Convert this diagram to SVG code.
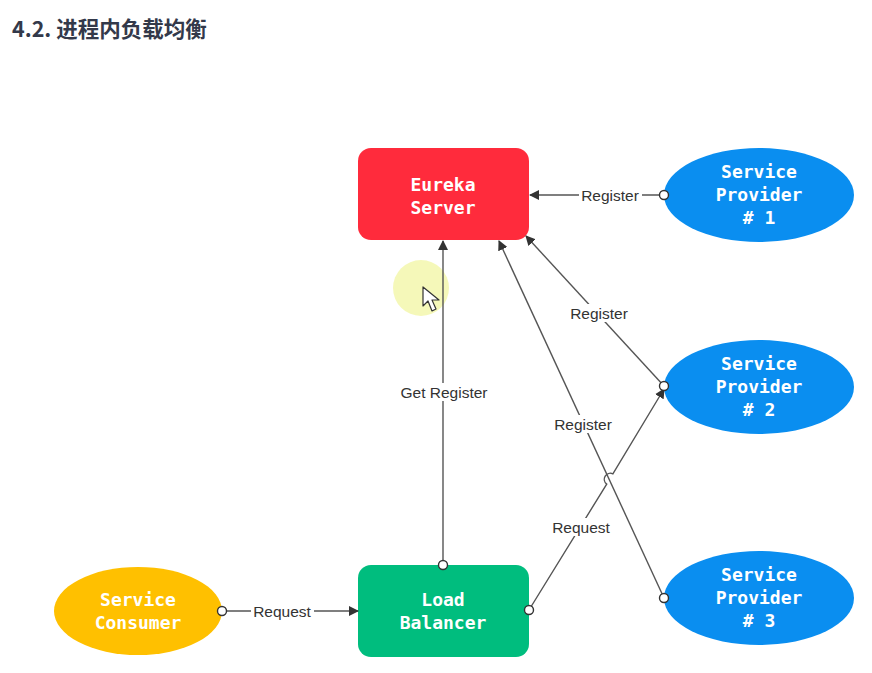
<svg xmlns="http://www.w3.org/2000/svg" width="872" height="673" viewBox="0 0 872 673">
<style>
.node-text{font-family:"DejaVu Sans Mono","Liberation Mono",monospace;font-weight:bold;font-size:18px;fill:#ffffff;text-anchor:middle}
.lbl{font-family:"Liberation Sans",Arial,sans-serif;font-size:15.5px;fill:#333333;text-anchor:middle}
.edge{fill:none;stroke:#555555;stroke-width:1.4}
.start{fill:#ffffff;stroke:#333333;stroke-width:1.4}
.lblbg{fill:#ffffff}
</style>
<defs>
<marker id="arr" viewBox="0 0 10 10" refX="9" refY="5" markerWidth="10" markerHeight="10" markerUnits="userSpaceOnUse" orient="auto">
<path d="M0,0 L10,5 L0,10 z" fill="#333333"/>
</marker>
</defs>
<rect width="872" height="673" fill="#ffffff"/>
<text x="12" y="37" font-family="'Noto Sans CJK SC','Noto Sans',sans-serif" font-weight="bold" font-size="21.5" fill="#33394a">4.2. 进程内负载均衡</text>

<g id="cursor">
<circle cx="421" cy="288" r="28" fill="#f2f6a8" opacity="0.8"/>
<path d="M423,287 L423,306 L428,301 L432,311 L436,309 L432,300 L439,300 Z" fill="#ffffff" stroke="#333333" stroke-width="1.2" stroke-linejoin="round"/>
</g>

<g id="eureka-server">
<rect x="358" y="148" width="171" height="92" rx="13" fill="#ff2b3c"/>
<text class="node-text" x="443" y="191">Eureka</text>
<text class="node-text" x="443" y="214">Server</text>
</g>
<g id="provider-1">
<ellipse cx="759" cy="195" rx="95" ry="47" fill="#0a8ef0"/>
<text class="node-text" x="759" y="178">Service</text>
<text class="node-text" x="759" y="201">Provider</text>
<text class="node-text" x="759" y="224"># 1</text>
</g>
<g id="provider-2">
<ellipse cx="759" cy="387" rx="95" ry="47" fill="#0a8ef0"/>
<text class="node-text" x="759" y="370">Service</text>
<text class="node-text" x="759" y="393">Provider</text>
<text class="node-text" x="759" y="416"># 2</text>
</g>
<g id="provider-3">
<ellipse cx="759" cy="598" rx="95" ry="47" fill="#0a8ef0"/>
<text class="node-text" x="759" y="581">Service</text>
<text class="node-text" x="759" y="604">Provider</text>
<text class="node-text" x="759" y="627"># 3</text>
</g>
<g id="service-consumer">
<ellipse cx="138" cy="611" rx="84" ry="44" fill="#ffc000"/>
<text class="node-text" x="138" y="606">Service</text>
<text class="node-text" x="138" y="629">Consumer</text>
</g>
<g id="load-balancer">
<rect x="358" y="565" width="171" height="92" rx="13" fill="#00bd7e"/>
<text class="node-text" x="443" y="606">Load</text>
<text class="node-text" x="443" y="629">Balancer</text>
</g>

<g id="connectors">
<line class="edge" x1="664" y1="195" x2="530" y2="195" marker-end="url(#arr)"/>
<line class="edge" x1="664" y1="386" x2="526" y2="236" marker-end="url(#arr)"/>
<line class="edge" x1="664" y1="598" x2="499" y2="241" marker-end="url(#arr)"/>
<line class="edge" x1="443" y1="565" x2="443" y2="241" marker-end="url(#arr)"/>
<path class="edge" d="M529,610 L606.7,484.1 A6,6 0 0 1 612.9,473.9 L664,389" marker-end="url(#arr)"/>
<line class="edge" x1="222" y1="611" x2="358" y2="611" marker-end="url(#arr)"/>
<circle class="start" cx="664" cy="195" r="4.5"/>
<circle class="start" cx="664" cy="386" r="4.5"/>
<circle class="start" cx="664" cy="598" r="4.5"/>
<circle class="start" cx="443" cy="565" r="4.5"/>
<circle class="start" cx="529" cy="610" r="4.5"/>
<circle class="start" cx="222" cy="611" r="4.5"/>
<rect class="lblbg" x="579" y="186" width="63" height="18"/>
<text class="lbl" x="610" y="201">Register</text>
<rect class="lblbg" x="567" y="304" width="63" height="18"/>
<text class="lbl" x="599" y="319">Register</text>
<rect class="lblbg" x="551" y="415" width="63" height="18"/>
<text class="lbl" x="583" y="430">Register</text>
<rect class="lblbg" x="396" y="383" width="95" height="18"/>
<text class="lbl" x="444" y="398">Get Register</text>
<rect class="lblbg" x="549" y="518" width="63" height="18"/>
<text class="lbl" x="581" y="533">Request</text>
<rect class="lblbg" x="251" y="602" width="63" height="18"/>
<text class="lbl" x="282" y="617">Request</text>
</g>
</svg>
